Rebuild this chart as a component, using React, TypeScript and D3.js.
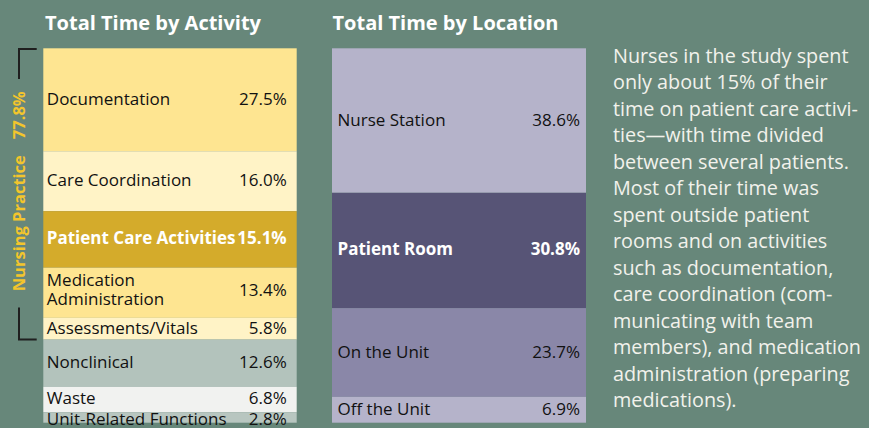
import React from "react";
import * as d3 from "d3";

// ---- data ----
const activityCategories = [
  "Documentation",
  "Care Coordination",
  "Patient Care Activities",
  "Medication\nAdministration",
  "Assessments/Vitals",
  "Nonclinical",
  "Waste",
  "Unit-Related Functions",
];
const activityValues = [27.5, 16.0, 15.1, 13.4, 5.8, 12.6, 6.8, 2.8];
const nursingPracticeCount = 5; // first five activities form "Nursing Practice"

const locationCategories = ["Nurse Station", "Patient Room", "On the Unit", "Off the Unit"];
const locationValues = [38.6, 30.8, 23.7, 6.9];

const titles = ["Total Time by Activity", "Total Time by Location"];
const bracketLabel = "Nursing Practice";

const noteLines = [
  "Nurses in the study spent",
  "only about 15% of their",
  "time on patient care activi-",
  "ties\u2014with time divided",
  "between several patients.",
  "Most of their time was",
  "spent outside patient",
  "rooms and on activities",
  "such as documentation,",
  "care coordination (com-",
  "municating with team",
  "members), and medication",
  "administration (preparing",
  "medications).",
];

// ---- styles ----
const activityFill = ["#fee591", "#fff3c6", "#d4ab2b", "#fee591", "#fff3c6", "#b3c3bc", "#f1f2f0", "#b8c6c0"];
const activityText = ["#111", "#111", "#fff", "#111", "#111", "#111", "#111", "#111"];
const activityBold = [false, false, true, false, false, false, false, false];
const locationFill = ["#b5b3ca", "#575476", "#8a87a8", "#b5b3ca"];
const locationText = ["#111", "#fff", "#111", "#111"];
const locationBold = [false, true, false, false];

const W = 869;
const H = 428;
const FONT = "'Open Sans', 'Noto Sans', sans-serif";
const BG = "#67877a";

type Seg = { label: string; value: number; y0: number; y1: number; fill: string; text: string; bold: boolean; ty: number };

function layout(cats: string[], vals: number[], fills: string[], texts: string[], bolds: boolean[], y: d3.ScaleLinear<number, number>): Seg[] {
  const cum = d3.cumsum(vals);
  let prevTy = -Infinity;
  return cats.map((c, i) => {
    const start = i === 0 ? 0 : cum[i - 1];
    const y0 = y(start);
    const y1 = y(cum[i]);
    const center = (y0 + y1) / 2;
    const ty = Math.max(center + 5, prevTy + 21);
    prevTy = ty;
    return { label: c, value: vals[i], y0, y1, fill: fills[i], text: texts[i], bold: bolds[i], ty };
  });
}

function Column({ segs, x0, x1, padL, padR }: { segs: Seg[]; x0: number; x1: number; padL: number; padR: number }) {
  return (
    <g>
      {segs.map((s, i) => (
        <rect key={"r" + i} x={x0} y={s.y0} width={x1 - x0} height={s.y1 - s.y0} fill={s.fill} />
      ))}
      {segs.map((s, i) => {
        const lines = s.label.split("\n");
        const lh = 19;
        const firstY = s.ty - ((lines.length - 1) * lh) / 2 - (lines.length > 1 ? 2 : 0);
        return (
          <g key={"t" + i} fill={s.text} fontWeight={s.bold ? 700 : 400} fontSize={17} fontFamily={FONT}>
            {lines.map((ln, j) => (
              <text key={j} x={x0 + padL} y={firstY + j * lh}>
                {ln}
              </text>
            ))}
            <text x={x1 - padR} y={s.ty - (lines.length > 1 ? 2 : 0)} textAnchor="end">
              {d3.format(".1f")(s.value)}%
            </text>
          </g>
        );
      })}
    </g>
  );
}

export default function App() {
  const y = d3.scaleLinear().domain([0, 100]).range([48.3, 422.7]);
  const act = layout(activityCategories, activityValues, activityFill, activityText, activityBold, y);
  const loc = layout(locationCategories, locationValues, locationFill, locationText, locationBold, y);

  const npTotal = d3.sum(activityValues.slice(0, nursingPracticeCount));
  const bTop = y(0) + 0.7;
  const bBot = y(npTotal);
  const bMid = (bTop + bBot) / 2 - 3;

  return (
    <svg
      width={W}
      height={H}
      style={{ position: "fixed", left: 0, top: 0, display: "block" }}
      xmlns="http://www.w3.org/2000/svg"
    >
      <rect x={0} y={0} width={W} height={H} fill={BG} />
      <text x={45} y={30} fill="#fff" fontFamily={FONT} fontWeight={700} fontSize={20}>
        {titles[0]}
      </text>
      <text x={332.5} y={30} fill="#fff" fontFamily={FONT} fontWeight={700} fontSize={20}>
        {titles[1]}
      </text>

      <Column segs={act} x0={43.3} x1={296.7} padL={3.5} padR={10} />
      <Column segs={loc} x0={332} x1={586} padL={5.5} padR={6} />

      {/* bracket */}
      <g stroke="#1f1f1f" strokeWidth={2} fill="none">
        <path d={`M36.7,${bTop}H19V${bTop + 30}`} />
        <path d={`M19,${bBot - 32}V${bBot}H36.7`} />
      </g>
      <text
        transform={`translate(25,${bMid}) rotate(-90)`}
        textAnchor="middle"
        fill="#f3c52c"
        fontFamily={FONT}
        fontWeight={700}
        fontSize={16.5}
      >
        {bracketLabel}
        <tspan dx={16}>{d3.format(".1f")(npTotal)}%</tspan>
      </text>

      {/* note */}
      <g fill="#f2f2ec" fontFamily={FONT} fontSize={19.8}>
        {noteLines.map((l, i) => (
          <text key={i} x={613} y={62.5 + i * 26.5}>
            {l}
          </text>
        ))}
      </g>
    </svg>
  );
}
